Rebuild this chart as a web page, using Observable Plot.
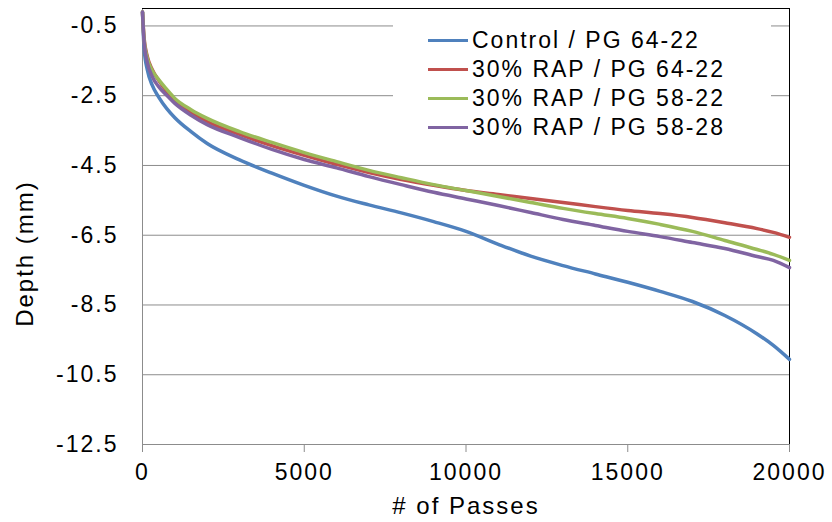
<!DOCTYPE html>
<html><head><meta charset="utf-8">
<script src="https://cdn.jsdelivr.net/npm/d3@7"></script>
<script src="https://cdn.jsdelivr.net/npm/@observablehq/plot@0.6"></script>
<style>
body{margin:0;background:#fff;font-family:"Liberation Sans",Arial,sans-serif;}
#wrap{position:relative;width:832px;height:522px;}
#legend{position:absolute;left:393px;top:9px;width:378px;height:137px;background:#fff;}
.row{position:absolute;left:0;height:29px;display:flex;align-items:center;white-space:nowrap;}
.sw{width:40px;height:3.5px;margin-left:35px;margin-right:4px;}
.lab{font-size:23px;letter-spacing:2px;color:#000;}
svg text{letter-spacing:2px;}
</style></head><body><div id="wrap"><div id="legend"></div></div>
<script>
const passes = [0, 50, 150, 300, 500, 750, 1000, 1500, 2000, 3000, 4000, 5000, 6000, 7000, 8000, 9000, 10000, 11000, 12000, 13000, 14000, 15000, 16000, 17000, 18000, 19000, 19500, 20000];
const seriesNames = ["Control / PG 64-22", "30% RAP / PG 64-22", "30% RAP / PG 58-22", "30% RAP / PG 58-28"];
const control6422 = [-0.1, -1.15, -1.76, -2.2, -2.54, -2.87, -3.13, -3.53, -3.87, -4.34, -4.72, -5.07, -5.38, -5.63, -5.86, -6.11, -6.39, -6.76, -7.10, -7.37, -7.61, -7.85, -8.11, -8.40, -8.80, -9.33, -9.66, -10.06];
const rap6422 = [-0.1, -0.86, -1.38, -1.75, -2.06, -2.38, -2.64, -2.97, -3.24, -3.61, -3.93, -4.21, -4.47, -4.70, -4.90, -5.07, -5.22, -5.33, -5.45, -5.56, -5.68, -5.79, -5.88, -5.99, -6.14, -6.31, -6.42, -6.56];
const rap5822 = [-0.1, -0.92, -1.43, -1.78, -2.04, -2.32, -2.58, -2.90, -3.15, -3.53, -3.84, -4.13, -4.39, -4.64, -4.85, -5.05, -5.22, -5.39, -5.56, -5.73, -5.88, -6.02, -6.19, -6.39, -6.65, -6.91, -7.05, -7.22];
const rap5828 = [-0.1, -0.97, -1.55, -1.95, -2.24, -2.49, -2.72, -3.06, -3.33, -3.70, -4.04, -4.33, -4.57, -4.82, -5.05, -5.27, -5.46, -5.65, -5.85, -6.05, -6.22, -6.39, -6.54, -6.71, -6.88, -7.11, -7.22, -7.43];
const seriesValues = [control6422, rap6422, rap5822, rap5828];
const colors = ["#4F81BD", "#C0504D", "#9BBB59", "#8064A2"];
const yTicks = [-0.5, -2.5, -4.5, -6.5, -8.5, -10.5, -12.5];
const xTicks = [0, 5000, 10000, 15000, 20000];

const rows = seriesNames.flatMap((name, i) => passes.map((p, j) => ({passes: p, depth: seriesValues[i][j], series: name})));

const grid = "#8c8c8c";
const chart = Plot.plot({
  width: 832, height: 522,
  marginLeft: 142, marginRight: 43, marginTop: 8, marginBottom: 78,
  x: {domain: [0, 20000]},
  y: {domain: [-12.5, 0]},
  color: {domain: seriesNames, range: colors},
  style: {fontFamily: "'Liberation Sans', Arial, sans-serif", fontSize: "23px", color: "#000", background: "#fff", overflow: "visible"},
  marks: [
    Plot.ruleY(yTicks.slice(0, -1), {stroke: grid, strokeWidth: 1}),
    Plot.ruleX([0], {stroke: grid}),
    Plot.ruleY([-12.5], {stroke: grid}),
    Plot.ruleY([0], {stroke: "#000"}),
    Plot.ruleX([20000], {stroke: "#000"}),
    Plot.axisY({ticks: yTicks, tickSize: 0, tickPadding: 24, tickFormat: d => d.toFixed(1), label: null, fill: "#000"}),
    Plot.axisX({ticks: xTicks, tickSize: 8, tickPadding: 11, tickFormat: d => String(d), label: null, stroke: grid, fill: "#000"}),
    Plot.line(rows, {x: "passes", y: "depth", z: "series", stroke: "series", strokeWidth: 3.5, curve: "monotone-x"}),
    Plot.text(["Depth (mm)"], {text: d => d, frameAnchor: "left", textAnchor: "middle", rotate: -90, dx: -117, dy: 27, fontSize: 24, fill: "#000"}),
    Plot.text(["# of Passes"], {text: d => d, frameAnchor: "bottom", lineAnchor: "middle", dy: 62, fontSize: 24, fill: "#000"})
  ]
});
const wrap = document.getElementById("wrap");
wrap.insertBefore(chart, wrap.firstChild);

const legend = document.getElementById("legend");
seriesNames.forEach((name, i) => {
  const row = document.createElement("div");
  row.className = "row";
  row.style.top = (17 + i * 29) + "px";
  const sw = document.createElement("div");
  sw.className = "sw";
  sw.style.background = colors[i];
  const lab = document.createElement("span");
  lab.className = "lab";
  lab.textContent = name;
  row.appendChild(sw); row.appendChild(lab);
  legend.appendChild(row);
});
</script></body></html>
